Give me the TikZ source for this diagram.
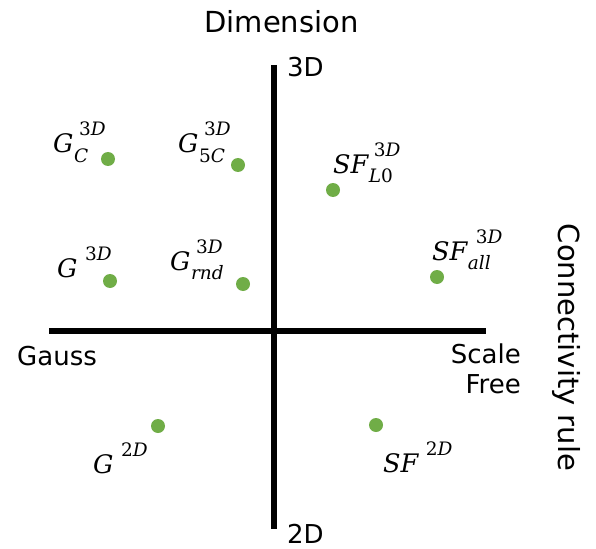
\documentclass[tikz,border=0pt]{standalone}
\usepackage{fontspec}
\setmainfont{DejaVu Sans}
\newfontfamily\lmr{DejaVu Serif}
\definecolor{dotgreen}{RGB}{112,173,71}
% #1 main, #2 sub, #3 sup, #4 gap before sup
\newcommand\ptlabel[4]{{\fontsize{25.5}{30}\selectfont\lmr\itshape #1}\hspace{0.5pt}\rlap{\raisebox{-9.5pt}{\fontsize{18.5}{22}\selectfont\lmr #2}}\hspace{#4}\raisebox{17pt}{\fontsize{18.5}{22}\selectfont\lmr #3}}
\newcommand\dd[1]{#1{\itshape D}}
\begin{document}
\begin{tikzpicture}[x=1pt,y=-1pt,
  axis/.style={line width=5.5pt},
  pt/.style={circle,fill=dotgreen,minimum size=14pt,inner sep=0pt},
  lbl/.style={inner sep=0pt,anchor=base west},
  axlbl/.style={inner sep=0pt,font=\fontsize{26}{30}\selectfont},
  title/.style={inner sep=0pt,font=\fontsize{29}{34}\selectfont}]
\useasboundingbox (0,0) rectangle (596,548);
% axes
\coordinate (top) at (274,65);
\coordinate (bot) at (274,529);
\coordinate (left) at (49,331);
\coordinate (right) at (486,331);
\draw[axis] (left) -- (right);
\draw[axis] (top) -- (bot);
% axis labels
\node[title,anchor=base] (dim) at (281.5,33) {Dimension};
\node[title,rotate=-90] (conn) at (566,347.5) {Connectivity rule};
\node[axlbl,anchor=base west] (l3d) at (287,77) {3D};
\node[axlbl,anchor=base west] (l2d) at (287,543) {2D};
\node[axlbl,anchor=base west] (gauss) at (17,365) {Gauss};
\node[axlbl,anchor=base east,align=right] (sf) at (521,393) {Scale\\Free};
% points
\node[pt] (p1) at (108,159) {};
\node[pt] (p2) at (238,165) {};
\node[pt] (p3) at (333,190) {};
\node[pt] (p4) at (110,281) {};
\node[pt] (p5) at (243,284) {};
\node[pt] (p6) at (437,277) {};
\node[pt] (p7) at (158,426) {};
\node[pt] (p8) at (376,425) {};
% point labels
\node[lbl] (t1) at (53,153) {\ptlabel{G}{\itshape C}{\dd{3}}{5pt}};
\node[lbl] (t2) at (178,153) {\ptlabel{G}{5{\itshape C}}{\dd{3}}{5pt}};
\node[lbl] (t3) at (333,173) {\ptlabel{SF}{{\itshape L}0}{\dd{3}}{5pt}};
\node[lbl] (t4) at (57,277) {\ptlabel{G}{}{\dd{3}}{7pt}};
\node[lbl] (t5) at (170,270) {\ptlabel{G}{\itshape rnd}{\dd{3}}{5pt}};
\node[lbl] (t6) at (432,260) {\ptlabel{SF}{\itshape all}{\dd{3}}{8pt}};
\node[lbl] (t7) at (93,473) {\ptlabel{G}{}{\dd{2}}{7pt}};
\node[lbl] (t8) at (383,472) {\ptlabel{SF}{}{\dd{2}}{7pt}};
\end{tikzpicture}
\end{document}
